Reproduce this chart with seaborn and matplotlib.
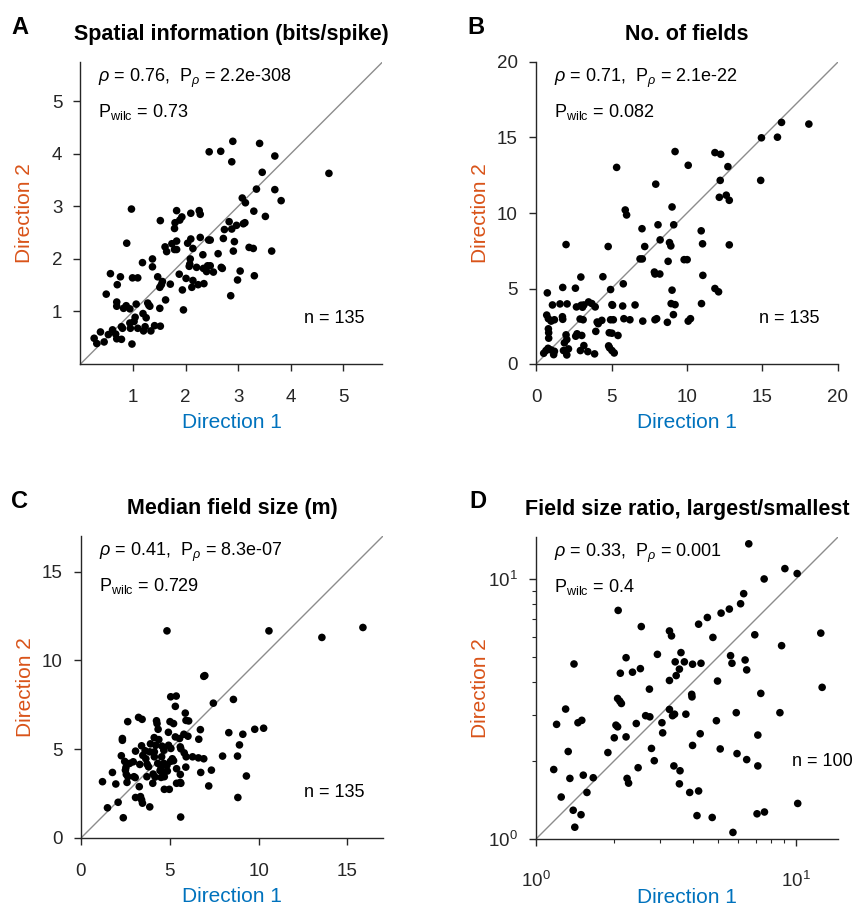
import numpy as np
import pandas as pd
import matplotlib
matplotlib.use("Agg")
import matplotlib.pyplot as plt
import seaborn as sns

# ---------------- data ----------------
si_dir1 = [2.90, 3.41, 2.45, 2.67, 3.70, 2.88, 4.73, 3.46, 3.35, 3.70, 3.08, 3.82, 3.14,
           0.97, 1.83, 2.26, 2.10, 2.28, 3.30, 1.93, 3.52, 1.52, 1.89, 1.80, 2.83, 2.97,
           3.13, 3.10, 1.79, 2.74, 2.88, 2.72, 2.93, 2.28, 2.44, 2.47, 2.10, 2.04, 1.83,
           1.74, 1.61, 1.64, 1.79, 1.83, 0.88, 2.14, 3.21, 3.29, 2.91, 3.64, 2.33, 2.62,
           1.37, 2.09, 1.18, 1.37, 2.08, 2.07, 2.21, 2.42, 2.47, 2.34, 2.40, 2.53, 2.68,
           2.70, 3.04, 3.31, 1.88, 2.01, 2.14, 1.47, 0.57, 0.76, 0.99, 1.09, 1.56, 1.54,
           1.71, 1.51, 0.70, 2.99, 2.24, 2.35, 2.12, 1.94, 2.86, 0.49, 1.62, 0.69, 0.69,
           0.82, 0.87, 0.94, 1.06, 1.28, 1.32, 1.30, 1.51, 1.96, 1.19, 1.25, 1.04, 1.02,
           0.94, 0.78, 0.80, 0.95, 1.09, 1.20, 1.23, 1.34, 1.41, 1.52, 0.61, 0.67, 0.38,
           0.53, 0.69, 0.78, 0.26, 0.31, 0.45, 0.98]
si_dir2 = [4.24, 4.20, 4.04, 4.05, 3.96, 3.85, 3.63, 3.65, 3.33, 3.32, 3.16, 3.11, 3.07,
           2.95, 2.92, 2.92, 2.87, 2.85, 2.91, 2.80, 2.81, 2.73, 2.74, 2.69, 2.71, 2.64,
           2.69, 2.67, 2.58, 2.56, 2.57, 2.39, 2.33, 2.41, 2.36, 2.36, 2.38, 2.30, 2.34,
           2.29, 2.23, 2.14, 2.18, 2.18, 2.30, 2.20, 2.22, 2.20, 2.15, 2.15, 2.08, 2.10,
           2.00, 2.00, 1.93, 1.85, 1.90, 1.86, 1.84, 1.87, 1.87, 1.82, 1.76, 1.75, 1.84,
           1.82, 1.77, 1.68, 1.71, 1.63, 1.59, 1.66, 1.72, 1.66, 1.64, 1.64, 1.57, 1.51,
           1.52, 1.46, 1.51, 1.60, 1.51, 1.53, 1.46, 1.41, 1.30, 1.33, 1.22, 1.18, 1.10,
           1.06, 1.11, 1.05, 1.14, 1.16, 1.10, 1.12, 1.06, 1.03, 0.96, 0.88, 0.89, 0.81,
           0.78, 0.71, 0.68, 0.68, 0.68, 0.63, 0.71, 0.63, 0.73, 0.72, 0.65, 0.57, 0.61,
           0.56, 0.48, 0.47, 0.49, 0.39, 0.42, 0.38]

nf_dir1 = [16.26, 18.07, 14.93, 15.99, 9.21, 11.85, 12.23, 10.08, 5.34, 12.71, 7.93, 12.20,
           14.88, 12.60, 12.14, 12.80, 9.01, 5.91, 6.00, 7.02, 8.08, 9.12, 10.94, 8.22, 8.84,
           8.93, 7.20, 4.78, 1.99, 11.03, 12.80, 6.89, 7.04, 9.81, 10.01, 7.84, 7.88, 8.20,
           8.75, 4.43, 2.97, 11.05, 5.78, 1.77, 2.61, 4.94, 9.01, 11.85, 12.09, 0.75, 1.09,
           1.59, 2.06, 2.68, 2.99, 3.08, 3.17, 3.48, 3.70, 3.92, 5.03, 5.07, 5.74, 6.56,
           8.95, 9.21, 10.96, 0.71, 0.82, 1.00, 1.22, 1.75, 1.77, 2.92, 3.12, 4.05, 4.12,
           4.36, 4.94, 5.12, 5.82, 6.22, 7.07, 7.88, 7.99, 8.70, 9.10, 10.08, 10.23, 0.82,
           0.84, 0.84, 1.99, 2.04, 1.88, 2.72, 2.63, 3.03, 3.96, 4.85, 5.03, 5.43, 3.17,
           2.94, 3.43, 3.88, 4.81, 4.87, 5.03, 5.18, 0.66, 0.80, 1.00, 1.17, 1.22, 1.82,
           1.97, 2.04, 2.15, 0.51]
nf_dir2 = [16.0, 15.89, 14.98, 15.02, 14.07, 14.0, 13.89, 13.16, 13.02, 13.07, 11.91, 12.16,
           12.16, 11.18, 11.04, 10.84, 10.4, 10.2, 9.87, 8.96, 9.22, 9.22, 8.82, 8.22, 8.04,
           7.82, 7.78, 7.78, 7.91, 7.96, 7.89, 6.96, 6.96, 6.91, 6.91, 6.09, 5.96, 5.96,
           6.80, 5.78, 5.76, 5.87, 5.31, 5.07, 5.02, 4.93, 4.89, 5.00, 4.78, 4.71, 3.91,
           3.98, 3.98, 3.78, 3.89, 3.76, 3.91, 4.11, 4.00, 3.78, 3.93, 3.89, 3.84, 3.91,
           4.00, 3.93, 4.00, 3.24, 3.00, 2.84, 2.93, 3.13, 2.96, 2.98, 2.93, 2.78, 2.67,
           2.89, 2.93, 2.93, 3.00, 2.93, 2.84, 2.93, 3.00, 2.76, 3.27, 2.84, 3.00, 2.33,
           2.07, 1.71, 1.93, 1.62, 1.40, 2.00, 1.84, 1.89, 2.16, 2.07, 2.04, 1.89, 1.22,
           0.89, 0.82, 0.67, 1.20, 1.07, 0.89, 0.73, 0.89, 1.04, 0.93, 0.62, 0.84, 0.89,
           0.84, 0.60, 1.00, 0.71]

fs_dir1 = [15.87, 13.56, 10.58, 4.84, 6.91, 6.97, 5.05, 5.36, 5.31, 7.45, 8.58, 3.24, 3.44,
           2.63, 4.25, 4.28, 5.01, 5.21, 5.87, 6.06, 5.91, 4.34, 4.92, 5.79, 6.72, 6.63,
           8.32, 9.11, 9.78, 10.28, 8.92, 2.33, 2.33, 4.12, 4.38, 5.31, 5.55, 6.02, 3.41,
           3.91, 4.21, 4.56, 4.93, 5.06, 5.59, 5.62, 3.07, 3.61, 3.87, 4.13, 4.66, 5.81,
           2.27, 3.48, 4.13, 4.54, 5.14, 5.21, 5.92, 6.28, 6.61, 6.91, 7.97, 8.81, 2.46,
           2.74, 2.94, 3.31, 3.65, 3.72, 3.80, 4.32, 4.51, 4.66, 4.84, 5.03, 4.45, 4.60,
           4.86, 5.38, 5.90, 2.53, 1.77, 2.50, 2.55, 2.64, 2.98, 3.05, 3.71, 4.06, 4.17,
           4.51, 4.69, 5.59, 6.74, 7.34, 9.31, 1.21, 1.96, 2.59, 3.28, 4.04, 4.69, 4.97,
           5.38, 5.62, 5.59, 7.19, 3.07, 3.35, 3.41, 3.46, 3.87, 2.09, 1.49, 2.38, 5.61,
           8.83]
fs_dir2 = [11.85, 11.29, 11.66, 11.66, 9.10, 9.14, 7.95, 7.99, 7.41, 7.59, 7.80, 6.79, 6.68,
           6.55, 6.60, 6.44, 6.55, 6.44, 7.03, 6.59, 6.62, 6.12, 5.95, 5.84, 6.10, 5.56,
           5.93, 5.84, 6.12, 6.18, 5.24, 5.60, 5.50, 5.65, 5.54, 5.69, 5.60, 5.73, 5.19,
           5.30, 5.22, 5.17, 5.22, 5.04, 5.13, 5.02, 4.89, 4.91, 4.85, 4.85, 4.94, 4.79,
           4.63, 4.65, 4.57, 4.57, 4.46, 4.35, 4.57, 4.57, 4.51, 4.46, 4.61, 4.61, 4.31,
           4.20, 4.29, 4.14, 4.46, 4.16, 4.01, 4.20, 3.97, 4.20, 4.09, 4.31, 3.79, 3.73,
           3.77, 3.90, 3.99, 3.97, 3.69, 3.82, 3.58, 3.45, 3.45, 3.40, 3.45, 3.60, 3.43,
           3.41, 3.45, 3.58, 3.69, 3.82, 3.49, 3.17, 3.04, 3.13, 2.89, 3.08, 2.74, 2.74,
           3.08, 3.08, 3.13, 2.93, 2.28, 2.33, 2.15, 1.96, 1.75, 2.01, 1.70, 1.14, 1.18,
           2.28]

fr_dir1 = [6.58, 9.06, 10.1, 7.54, 6.29, 6.12, 5.54, 5.15, 4.56, 4.22, 2.07, 2.54, 3.26,
           3.32, 4.79, 6.94, 12.45, 8.80, 1.40, 2.22, 2.93, 3.61, 3.43, 3.56, 3.46, 3.72,
           4.00, 4.31, 5.60, 5.67, 6.37, 6.46, 2.11, 2.35, 2.52, 3.26, 4.99, 2.73, 3.97,
           3.98, 7.32, 12.6, 2.06, 2.10, 2.13, 1.30, 1.20, 1.45, 1.50, 2.03, 2.06, 2.43,
           2.64, 2.74, 3.05, 3.07, 3.26, 3.35, 3.41, 3.77, 4.94, 5.89, 8.67, 2.00, 2.22,
           4.28, 7.13, 4.00, 2.78, 5.11, 1.33, 1.89, 5.93, 2.85, 6.46, 7.13, 1.17, 3.39,
           2.47, 3.58, 1.35, 1.52, 1.66, 2.24, 2.27, 3.56, 1.57, 1.25, 3.90, 4.22, 1.39,
           1.49, 4.16, 4.76, 7.08, 7.56, 10.15, 1.41, 5.72]
fr_dir2 = [13.65, 10.96, 10.49, 10.0, 8.78, 8.03, 7.66, 7.39, 7.11, 6.70, 7.57, 6.56, 6.31,
           6.04, 5.96, 6.10, 6.19, 5.54, 4.71, 4.98, 5.13, 5.21, 4.80, 4.50, 4.25, 4.80,
           4.70, 4.74, 5.07, 4.74, 4.88, 4.47, 4.34, 4.38, 4.52, 4.07, 4.05, 3.77, 3.60,
           3.52, 3.63, 3.83, 3.47, 3.39, 3.32, 3.16, 2.76, 2.80, 2.86, 2.74, 2.70, 2.78,
           2.98, 2.95, 2.80, 2.56, 3.15, 2.98, 3.02, 3.02, 2.85, 3.06, 3.06, 2.45, 2.47,
           2.54, 2.51, 2.29, 2.23, 2.22, 2.17, 2.15, 2.13, 2.00, 2.02, 1.91, 1.85, 1.91,
           1.88, 1.83, 1.71, 1.76, 1.72, 1.71, 1.64, 1.63, 1.51, 1.45, 1.51, 1.53, 1.29,
           1.24, 1.23, 1.21, 1.25, 1.27, 1.37, 1.11, 1.06]

titles = ["Spatial information (bits/spike)", "No. of fields",
          "Median field size (m)", "Field size ratio, largest/smallest"]
letters = ["A", "B", "C", "D"]
stats_line1 = [r"$\rho$ = 0.76,  P$_{\rho}$ = 2.2e-308", r"$\rho$ = 0.71,  P$_{\rho}$ = 2.1e-22",
               r"$\rho$ = 0.41,  P$_{\rho}$ = 8.3e-07", r"$\rho$ = 0.33,  P$_{\rho}$ = 0.001"]
stats_line2 = [r"P$_{\mathrm{wilc}}$ = 0.73", r"P$_{\mathrm{wilc}}$ = 0.082",
               r"P$_{\mathrm{wilc}}$ = 0.729", r"P$_{\mathrm{wilc}}$ = 0.4"]
n_labels = ["n = 135", "n = 135", "n = 135", "n = 100"]
limits = [(0, 5.75), (0, 20), (0, 17), (1, 14.5)]
ticks = [[1, 2, 3, 4, 5], [0, 5, 10, 15, 20], [0, 5, 10, 15], None]
xlabel_text = "Direction 1"
ylabel_text = "Direction 2"

# ---------------- style ----------------
sns.set_theme(style="ticks")
plt.rcParams["font.family"] = ["Liberation Sans", "DejaVu Sans"]
plt.rcParams["mathtext.fontset"] = "custom"
plt.rcParams["mathtext.rm"] = "Liberation Sans"
plt.rcParams["mathtext.it"] = "Liberation Sans:italic"
plt.rcParams["mathtext.bf"] = "Liberation Sans:bold"
AX_COL = "#262626"
ORANGE = "#D95319"
BLUE = "#0072BD"

fig = plt.figure(figsize=(8.54, 9.08), dpi=100)
W, H = 854, 908
boxes = [(80.5, 62), (536, 62), (81, 536), (536, 537)]  # left, top in px
size = 302

datasets = [(si_dir1, si_dir2), (nf_dir1, nf_dir2), (fs_dir1, fs_dir2), (fr_dir1, fr_dir2)]
letter_pos = [(20, 27), (476, 27), (20, 501), (478, 501)]

for i, ((l, t), (d1, d2)) in enumerate(zip(boxes, datasets)):
    ax = fig.add_axes([l / W, 1 - (t + size) / H, size / W, size / H])
    df = pd.DataFrame({"d1": d1, "d2": d2})
    lo, hi = limits[i]
    if i == 3:
        ax.set_xscale("log")
        ax.set_yscale("log")
    ax.plot([lo, hi], [lo, hi], color="#8c8c8c", lw=1.0, zorder=1)
    sns.scatterplot(data=df, x="d1", y="d2", ax=ax, color="black", s=30,
                    edgecolor="none", linewidth=0, zorder=3, legend=False)
    ax.set_xlim(lo, hi)
    ax.set_ylim(lo, hi)
    if ticks[i] is not None:
        ax.set_xticks(ticks[i])
        ax.set_yticks(ticks[i])
    sns.despine(ax=ax)
    for sp in ["left", "bottom"]:
        ax.spines[sp].set_color(AX_COL)
        ax.spines[sp].set_linewidth(1.0)
    ax.tick_params(axis="both", which="major", direction="out", length=5, width=1,
                   color=AX_COL, labelcolor=AX_COL, labelsize=13.5)
    ax.tick_params(axis="x", which="major", pad=18 if i == 3 else 13)
    ax.tick_params(axis="y", which="major", pad=8)
    ax.tick_params(axis="both", which="minor", direction="out", length=3, width=0.8,
                   color=AX_COL)
    ax.set_xlabel(xlabel_text, color=BLUE, fontsize=15)
    ax.set_ylabel(ylabel_text, color=ORANGE, fontsize=15)
    ax.xaxis.label.set_va("center")
    ax.yaxis.label.set_va("center")
    ax.xaxis.set_label_coords(0.5, -0.195)
    ax.yaxis.set_label_coords(-0.185, 0.5)
    ax.text(0.5, 1.09, titles[i], transform=ax.transAxes, ha="center", va="center",
            fontsize=15.5, fontweight="bold", color="black")
    ax.text(0.058, 0.947, stats_line1[i], transform=ax.transAxes, ha="left",
            va="center", fontsize=13, color="black")
    ax.text(0.058, 0.835, stats_line2[i], transform=ax.transAxes, ha="left",
            va="center", fontsize=13, color="black")
    if i == 3:
        ax.text(1.05, 0.255, n_labels[i], transform=ax.transAxes, ha="right",
                va="center", fontsize=13, color="black")
    else:
        ax.text(0.94, 0.152, n_labels[i], transform=ax.transAxes, ha="right",
                va="center", fontsize=13, color="black")
    lx, ly = letter_pos[i]
    fig.text(lx / W, 1 - ly / H, letters[i], ha="center", va="center",
             fontsize=17, fontweight="bold", color="black")

fig.savefig("out.png", dpi=100)
